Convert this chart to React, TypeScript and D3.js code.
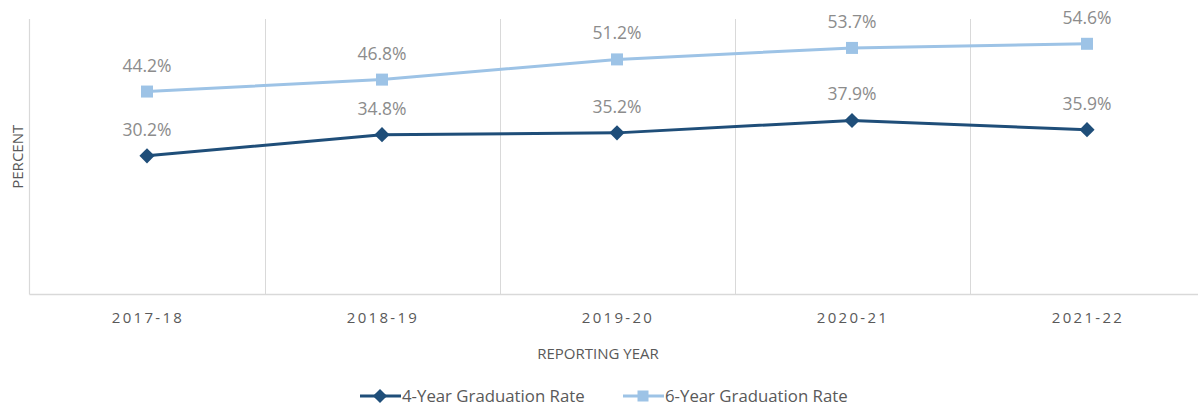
import React, { useRef, useEffect } from "react";
import * as d3 from "d3";

const years = ["2017-18", "2018-19", "2019-20", "2020-21", "2021-22"];
const fourYear = [30.2, 34.8, 35.2, 37.9, 35.9];
const sixYear = [44.2, 46.8, 51.2, 53.7, 54.6];

const W = 1198;
const H = 410;
const PLOT = { left: 29.5, right: 29.5 + 5 * 235, top: 19, bottom: 294.5 };
const FONT = "'Open Sans', 'Noto Sans', sans-serif";
const DARK = "#1f4e79";
const LIGHT = "#9dc3e6";

const App = () => {
  const ref = useRef<SVGSVGElement | null>(null);

  useEffect(() => {
    const svg = d3.select(ref.current);
    svg.selectAll("*").remove();

    const x = d3.scaleBand().domain(years).range([PLOT.left, PLOT.right]);
    const y = d3.scaleLinear().domain([0, 60]).range([PLOT.bottom, PLOT.top]);
    const cx = (d: string) => (x(d) as number) + x.bandwidth() / 2;

    // vertical grid lines between categories
    const grid = svg.append("g");
    years.forEach(yr => {
      const gx = (x(yr) as number) + x.bandwidth();
      grid.append("line")
        .attr("x1", Math.round(gx) + 0.5).attr("x2", Math.round(gx) + 0.5)
        .attr("y1", PLOT.top).attr("y2", PLOT.bottom)
        .attr("stroke", "#d9d9d9").attr("stroke-width", 1);
    });

    // axes lines
    svg.append("line")
      .attr("x1", PLOT.left).attr("x2", PLOT.left)
      .attr("y1", PLOT.top).attr("y2", PLOT.bottom)
      .attr("stroke", "#d9d9d9").attr("stroke-width", 1.2);
    svg.append("line")
      .attr("x1", PLOT.left).attr("x2", PLOT.right)
      .attr("y1", PLOT.bottom).attr("y2", PLOT.bottom)
      .attr("stroke", "#d9d9d9").attr("stroke-width", 1.5);

    // category labels
    svg.append("g").selectAll("text").data(years).enter().append("text")
      .attr("x", d => cx(d) + 1)
      .attr("y", 323)
      .attr("text-anchor", "middle")
      .attr("font-family", FONT)
      .attr("font-size", 15)
      .attr("letter-spacing", 2.3)
      .attr("fill", "#595959")
      .text(d => d);

    svg.append("text")
      .attr("x", 598).attr("y", 359)
      .attr("text-anchor", "middle")
      .attr("font-family", FONT).attr("font-size", 15)
      .attr("fill", "#595959")
      .text("REPORTING YEAR");

    svg.append("text")
      .attr("transform", `translate(22.5, ${(PLOT.top + PLOT.bottom) / 2}) rotate(-90)`)
      .attr("text-anchor", "middle")
      .attr("font-family", FONT).attr("font-size", 15)
      .attr("fill", "#595959")
      .text("PERCENT");

    const line = d3.line<number>()
      .x((_, i) => cx(years[i]))
      .y(d => y(d));

    const series = [
      { name: "4-Year Graduation Rate", values: fourYear, color: DARK, shape: "diamond" },
      { name: "6-Year Graduation Rate", values: sixYear, color: LIGHT, shape: "square" },
    ];

    const marker = (g: any, shape: string, color: string, size: number) => {
      if (shape === "diamond") {
        g.append("path")
          .attr("d", d3.symbol().type(d3.symbolDiamond2).size(size * size * 0.75)())
          .attr("fill", color);
      } else {
        g.append("rect")
          .attr("x", -size / 2).attr("y", -size / 2)
          .attr("width", size).attr("height", size)
          .attr("fill", color);
      }
    };

    series.forEach(s => {
      svg.append("path")
        .datum(s.values)
        .attr("d", line)
        .attr("fill", "none")
        .attr("stroke", s.color)
        .attr("stroke-width", 3);

      s.values.forEach((v, i) => {
        const g = svg.append("g").attr("transform", `translate(${cx(years[i])}, ${y(v)})`);
        marker(g, s.shape, s.color, s.shape === "diamond" ? 14 : 12);
      });

      svg.append("g").selectAll("text").data(s.values).enter().append("text")
        .attr("x", (_, i) => cx(years[i]))
        .attr("y", d => y(d) - 20)
        .attr("text-anchor", "middle")
        .attr("font-family", FONT)
        .attr("font-size", 17.5)
        .attr("fill", "#8c8c8c")
        .text(d => d.toFixed(1) + "%");
    });

    // legend
    const legendItems = [
      { x: 360, ...series[0] },
      { x: 623, ...series[1] },
    ];
    legendItems.forEach(item => {
      const g = svg.append("g").attr("transform", `translate(${item.x}, 396)`);
      g.append("line")
        .attr("x1", 0).attr("x2", 41)
        .attr("y1", 0).attr("y2", 0)
        .attr("stroke", item.color).attr("stroke-width", 3);
      const m = g.append("g").attr("transform", "translate(20, 0)");
      marker(m, item.shape, item.color, item.shape === "diamond" ? 13 : 11);
      g.append("text")
        .attr("x", 42).attr("y", 6)
        .attr("font-family", FONT).attr("font-size", 16.8)
        .attr("fill", "#595959")
        .text(item.name);
    });
  }, []);

  return (
    <svg
      ref={ref}
      width={W}
      height={H}
      style={{ position: "absolute", left: 0, top: 0, background: "#fff" }}
    />
  );
};

export default App;
